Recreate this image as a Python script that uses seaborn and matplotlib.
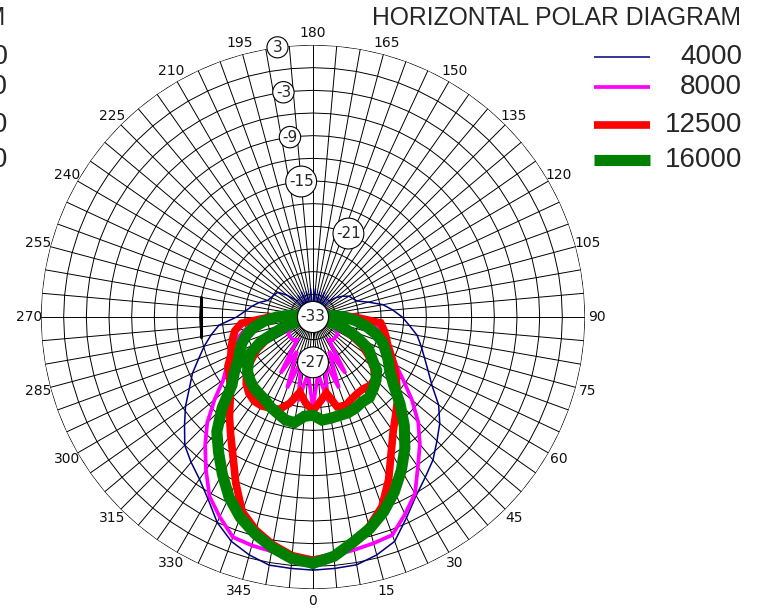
import numpy as np
import pandas as pd
import matplotlib.pyplot as plt
from matplotlib.lines import Line2D
import seaborn as sns

sns.set_style('white')
plt.rcParams['font.family'] = ['DejaVu Sans']

# measured angles (deg) and levels (dB) for each frequency
angles = list(range(0, 360, 5))

db_4000 = [0.5, 0.4, 0.3, -0.4, -1.4, -3.7, -5.7, -7.1, -8.3, -9.8, -11.1, -12.7,
           -14.8, -16.2, -17.3, -18.2, -19.0, -20.2, -21.2, -22.4, -23.6, -25.4, -26.8, -27.2,
           -27.5, -28.2, -29.0, -30.0, -34.5, -29.5, -35.0, -29.3, -34.8, -29.5, -35.0, -29.2,
           -34.0, -29.2, -35.0, -29.5, -34.8, -29.3, -35.0, -29.5, -34.5, -29.9, -28.5, -27.3,
           -27.1, -26.9, -26.6, -25.6, -24.8, -24.0, -22.9, -20.5, -19.3, -18.1, -16.9, -15.4,
           -14.1, -12.4, -10.8, -9.0, -7.9, -6.8, -5.2, -3.0, -1.4, -0.4, 0.35, 0.4]

db_8000 = [-1.1, -1.3, -1.7, -2.0, -2.3, -4.2, -6.0, -8.8, -11.0, -13.3, -15.9, -18.4,
           -20.3, -21.5, -22.3, -23.0, -24.0, -26.5, -29.0, -31.5, -33.5, -34.5, -35.5, -36.0,
           -36.5, -37.0, -37.0, -37.0, -37.0, -36.7, -41.6, -38.0, -43.0, -39.0, -44.3, -40.5,
           -45.0, -40.5, -44.3, -39.0, -43.0, -38.0, -41.6, -36.7, -37.0, -37.0, -37.0, -37.0,
           -36.5, -36.0, -35.5, -34.5, -33.5, -31.0, -28.5, -26.0, -24.0, -22.8, -21.8, -20.8,
           -19.8, -18.5, -16.0, -13.2, -10.8, -8.3, -5.6, -3.8, -2.0, -1.7, -1.5, -1.2]

db_12500 = [-0.8, -1.3, -2.5, -4.3, -6.3, -9.3, -12.3, -14.5, -16.0, -17.2, -18.5, -19.6,
            -20.7, -21.7, -22.5, -23.0, -23.5, -24.0, -27.5, -30.0, -32.5, -35.0, -37.5, -39.5,
            -41.5, -43.0, -44.5, -45.5, -46.2, -46.6, -46.6, -46.3, -46.0, -44.8, -43.1, -44.4,
            -45.4, -44.2, -43.2, -45.3, -45.5, -45.0, -44.7, -44.6, -44.8, -44.6, -43.5, -42.0,
            -40.5, -38.5, -36.5, -34.5, -32.5, -30.0, -27.3, -23.5, -22.5, -22.0, -21.5, -21.0,
            -20.0, -19.5, -18.7, -17.5, -15.8, -14.0, -11.8, -8.8, -5.6, -3.8, -2.4, -1.3]

db_16000 = [-0.4, -1.2, -2.7, -4.0, -5.6, -7.5, -9.6, -11.8, -14.2, -16.7, -19.1, -20.6,
            -21.5, -22.4, -23.2, -24.4, -25.8, -27.3, -28.8, -30.5, -33.0, -35.0, -37.5, -40.5,
            -42.5, -43.5, -44.3, -44.8, -45.2, -45.4, -45.7, -46.2, -46.6, -47.1, -47.2, -46.2,
            -46.0, -46.7, -46.6, -46.5, -46.5, -46.3, -46.0, -46.0, -45.4, -44.8, -44.0, -42.5,
            -41.5, -39.5, -37.5, -35.0, -32.5, -30.0, -28.2, -26.5, -25.0, -23.9, -23.0, -22.3,
            -21.6, -20.3, -19.0, -16.0, -13.2, -11.2, -9.0, -6.7, -4.8, -3.3, -2.0, -0.9]

series_names = ['4000', '8000', '12500', '16000']
series_values = [db_4000, db_8000, db_12500, db_16000]
series_colors = ['#000080', '#ff00ff', '#ff0000', '#008000']
series_widths = [1.1, 2.7, 5.5, 8.0]

r_min, r_max = -33, 3
ring_levels = list(range(-30, 4, 3))
spoke_angles = list(range(0, 360, 5))
angle_ticks = list(range(0, 360, 15))
rlabel_values = [3, -3, -9, -15, -21, -27, -33]
rlabel_angles = [187.5, 187.5, 187.3, 185, 157, 0, 0]

W, H = 759, 611
fig = plt.figure(figsize=(W / 100, H / 100), dpi=100)
cx, cy, rad = 313, 317, 272
ax = fig.add_axes([(cx - rad) / W, (H - cy - rad) / H, 2 * rad / W, 2 * rad / H],
                  projection='polar')
ax.set_theta_zero_location('S')
ax.set_theta_direction(1)
ax.set_rlim(r_min, r_max)
ax.grid(False)
ax.spines['polar'].set_visible(False)
ax.set_yticks([])
ax.set_xticks([])

# polygonal grid like the original software draws
ring_theta = np.deg2rad(spoke_angles + [360])
for lv in ring_levels:
    ax.plot(ring_theta, [lv] * len(ring_theta), color='black', lw=0.7, zorder=1)
for a in spoke_angles:
    ax.plot([np.deg2rad(a)] * 2, [r_min, r_max], color='black', lw=0.7, zorder=1)
# short bold mark on the -18 ring
ax.plot(np.deg2rad([260, 280]), [-18, -18], color='black', lw=2.2, zorder=1)

# angle labels just outside the rim
for a in angle_ticks:
    ax.text(np.deg2rad(a), r_max + 1.6, str(a), ha='center', va='center',
            fontsize=10, color='#111111')


def to_plot(vals):
    # values below the floor are drawn through the centre, as in the original
    th = np.array(angles + [angles[0]], dtype=float)
    v = np.array(vals + [vals[0]], dtype=float)
    below = v < r_min
    th = np.where(below, th + 180, th)
    v = np.where(below, 2 * r_min - v, v)
    return np.deg2rad(th), v


for name, vals, col, lw in zip(series_names, series_values, series_colors, series_widths):
    th, rr = to_plot(vals)
    df = pd.DataFrame({'theta': th, 'r': rr})
    sns.lineplot(data=df, x='theta', y='r', ax=ax, sort=False, estimator=None,
                 color=col, linewidth=lw, zorder=3)
for ln in ax.lines:
    ln.set_solid_joinstyle('miter')

ax.set_xlabel('')
ax.set_ylabel('')
ax.set_rlim(r_min, r_max)

for v, a in zip(rlabel_values, rlabel_angles):
    ax.text(np.deg2rad(a), v, str(v), ha='center', va='center', fontsize=11, zorder=10,
            bbox=dict(boxstyle='circle,pad=0.2', fc='white', ec='black', lw=0.8))

# legend drawn by hand (right aligned labels)
fig.text(741 / W, 1 - 18 / H, 'HORIZONTAL POLAR DIAGRAM', ha='right', va='center',
         fontsize=17.8, family='Liberation Sans')
leg_y = [57, 87, 125, 160]
for name, col, lw, y in zip(series_names, series_colors, series_widths, leg_y):
    fig.add_artist(Line2D([594 / W, 650 / W], [1 - y / H] * 2, color=col, lw=lw,
                          solid_capstyle='butt', transform=fig.transFigure))
    fig.text(742 / W, 1 - y / H, name, ha='right', va='center', fontsize=20,
             family='Liberation Sans')

# clipped pieces of the neighbouring diagram
fig.text(5 / W, 1 - 18 / H, 'VERTICAL POLAR DIAGRAM', ha='right', va='center',
         fontsize=17.8, family='Liberation Sans')
for name, y in zip(series_names, leg_y):
    fig.text(8 / W, 1 - y / H, name, ha='right', va='center', fontsize=20,
             family='Liberation Sans')

fig.savefig('out.png', dpi=100)
